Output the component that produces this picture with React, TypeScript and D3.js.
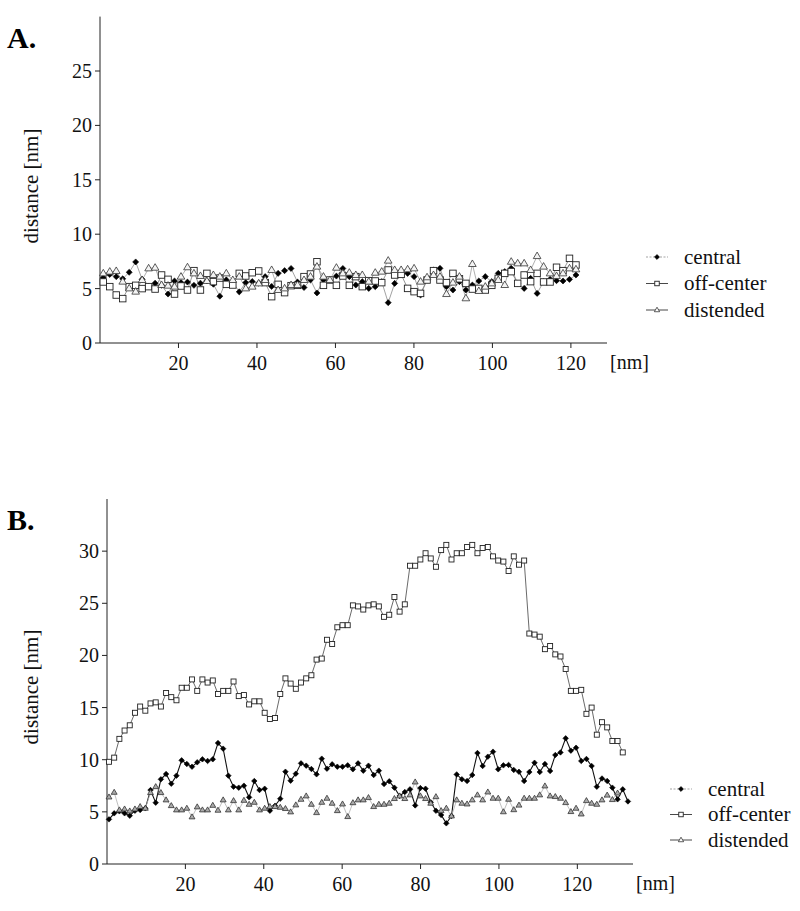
import React from 'react';
import * as d3 from 'd3';

const FONT = "'Liberation Serif', 'DejaVu Serif', 'Noto Serif', Tinos, Times, 'Times New Roman', serif";

const seriesNames = ['central', 'off-center', 'distended'];

// sampling grid (nm) of each panel
const aXStart = 0.84;
const aXStep = 1.65;
const bXStart = 0.51;
const bXStep = 1.324;

// ---------- Panel A ----------
const aCentral = [
  6.0, 6.3, 6.1, 5.9, 6.5, 7.45, 5.85, 5.2, 5.5, 5.3,
  4.5, 5.7, 5.55, 5.6, 5.3, 5.5, 5.7, 5.4, 4.3, 5.8,
  5.6, 4.7, 5.55, 5.65, 5.5, 6.1, 5.2, 6.4, 6.65, 6.85,
  5.6, 5.1, 5.8, 4.6, 5.8, 5.8, 6.15, 6.85, 6.1, 5.33,
  5.64, 5.02, 5.18, 5.64, 3.71, 5.48, 6.4, 6.4, 6.1, 4.41,
  5.79, 6.71, 6.86, 5.18, 4.87, 5.64, 4.87, 5.33, 5.7, 6.1,
  5.64, 6.4, 6.56, 6.86, 5.48, 5.02, 5.94, 4.56, 5.64, 5.85,
  5.73, 5.7, 5.85, 6.25,
];
const aOffCenter = [
  5.61, 5.18, 4.41, 4.08, 5.18, 5.3, 5.0, 5.18, 4.96, 6.25,
  5.85, 4.5, 5.24, 4.87, 6.65, 4.87, 6.4, 5.64, 5.97, 5.39,
  5.33, 6.4, 6.16, 6.46, 6.62, 5.55, 4.26, 5.39, 4.63, 5.27,
  5.3, 6.1, 6.34, 7.47, 5.3, 5.79, 5.3, 6.16, 5.3, 6.1,
  5.18, 5.73, 5.7, 5.55, 6.71, 6.25, 6.31, 5.02, 4.72, 4.56,
  5.79, 6.65, 5.79, 5.55, 6.4, 5.9, 5.48, 4.96, 5.02, 4.87,
  5.3, 5.94, 6.4, 6.56, 5.48, 6.25, 5.64, 6.4, 5.61, 5.61,
  6.96, 6.65, 7.78, 7.17,
];
const aDistended = [
  6.4, 6.56, 6.62, 5.64, 5.02, 4.72, 5.79, 6.86, 6.92, 5.33,
  5.27, 5.18, 6.1, 6.96, 6.4, 6.16, 5.7, 6.25, 6.1, 6.4,
  5.79, 6.1, 5.02, 5.18, 5.48, 5.79, 6.71, 4.87, 5.02, 5.33,
  5.33, 5.79, 6.1, 7.02, 6.1, 5.79, 6.92, 6.4, 6.46, 6.25,
  6.25, 5.64, 6.46, 6.56, 7.57, 6.71, 6.71, 6.77, 6.86, 5.64,
  6.04, 6.25, 6.1, 4.5, 5.55, 6.1, 4.11, 7.26, 4.78, 5.18,
  5.48, 5.79, 5.33, 7.47, 7.32, 7.32, 6.71, 7.99, 7.02, 6.4,
  6.16, 6.4, 6.86, 6.77,
];

// ---------- Panel B ----------
const bCentral = [
  4.28, 4.86, 5.05, 4.86, 4.63, 5.11, 5.18, 5.34, 7.09, 5.88,
  8.12, 8.63, 7.7, 8.47, 9.94, 9.59, 9.33, 9.75, 10.04, 9.88,
  10.04, 11.6, 11.06, 8.47, 7.41, 7.32, 7.51, 6.39, 7.96, 7.09,
  7.22, 5.11, 5.59, 6.26, 8.85, 7.99, 8.66, 9.65, 9.43, 9.11,
  8.6, 10.1, 9.14, 9.56, 9.33, 9.33, 9.46, 9.08, 9.65, 8.95,
  9.43, 8.53, 8.95, 7.67, 7.93, 7.32, 6.52, 6.9, 7.16, 5.62,
  7.28, 7.22, 5.91, 5.11, 4.7, 3.9, 4.6, 8.59, 8.12, 7.96,
  8.53, 10.64, 9.4, 10.29, 10.77, 9.08, 9.46, 9.5, 9.02, 8.84,
  7.96, 8.82, 9.71, 8.82, 9.59, 8.92, 10.45, 10.7, 12.05, 10.87,
  11.15, 9.88, 10.07, 9.4, 7.41, 8.2, 7.96, 7.32, 6.2, 7.16,
  6.0,
];
const bOffCenter = [
  9.8, 10.2, 12.0, 12.8, 13.3, 14.5, 15.1, 14.7, 15.4, 15.5,
  15.1, 16.4, 16.0, 15.7, 16.9, 16.9, 17.7, 16.6, 17.7, 17.4,
  17.6, 16.3, 16.6, 16.6, 17.5, 16.1, 16.2, 15.3, 15.6, 15.6,
  14.5, 13.9, 14.0, 16.3, 17.8, 17.3, 16.8, 17.4, 17.8, 18.1,
  19.6, 19.7, 21.5, 21.1, 22.7, 22.9, 22.9, 24.8, 24.7, 24.4,
  24.8, 24.9, 24.7, 23.7, 23.9, 25.6, 24.2, 24.9, 28.6, 28.6,
  29.2, 29.8, 29.3, 28.5, 30.1, 30.6, 29.2, 29.8, 29.8, 30.4,
  30.6, 29.8, 30.3, 30.4, 29.5, 29.1, 29.0, 28.1, 29.5, 28.7,
  29.1, 22.1, 22.0, 21.8, 20.6, 20.9, 20.1, 19.9, 18.7, 16.6,
  16.6, 16.7, 14.4, 15.0, 12.4, 13.6, 13.1, 11.8, 11.8, 10.7,
];
const bDistended = [
  6.42, 6.87, 5.18, 5.27, 5.08, 5.27, 5.5, 5.34, 6.84, 7.41,
  6.84, 6.14, 5.59, 5.18, 5.18, 5.34, 4.51, 5.47, 5.18, 5.18,
  5.62, 5.15, 6.14, 5.18, 6.07, 5.18, 6.1, 5.72, 5.91, 5.18,
  5.34, 5.5, 5.5, 5.43, 5.31, 4.99, 5.66, 6.2, 6.52, 5.72,
  4.92, 5.91, 6.3, 5.82, 5.11, 5.75, 4.54, 5.87, 6.14, 6.14,
  6.36, 5.5, 5.72, 5.72, 5.82, 6.27, 6.52, 6.27, 6.62, 7.86,
  6.52, 6.27, 5.82, 6.45, 5.11, 5.34, 4.6, 6.14, 5.82, 5.75,
  6.14, 6.62, 6.14, 6.9, 6.3, 6.3, 5.0, 6.2, 5.2, 5.64,
  6.3, 6.3, 6.3, 6.62, 7.48, 6.52, 6.46, 6.3, 5.88, 5.02,
  5.34, 4.79, 6.07, 5.82, 5.72, 6.14, 6.6, 6.17, 6.8,
];

const aYTicks = [0, 5, 10, 15, 20, 25];
const bYTicks = [0, 5, 10, 15, 20, 25, 30];
const xTicks = [20, 40, 60, 80, 100, 120];

type Style = {
  line: string;
  lineW: number;
  mSize: number;
  triFill: string;
};

type PanelProps = {
  label: string;
  left: number;
  right: number;
  top: number;
  bottom: number;
  xMax: number;
  yMax: number;
  yTicks: number[];
  series: number[][];
  xStart: number;
  xStep: number;
  styles: Style[];
  legendX: number;
  legendY: number;
  legendGap: number;
  yLabelY: number;
};

function Marker({ kind, x, y, s, triFill }: { kind: number; x: number; y: number; s: number; triFill: string }) {
  if (kind === 0) {
    const r = s * 0.55;
    return <path d={`M${x},${y - r}L${x + r},${y}L${x},${y + r}L${x - r},${y}Z`} fill="#000" stroke="#000" strokeWidth={0.6} />;
  }
  if (kind === 1) {
    return <rect x={x - s / 2} y={y - s / 2} width={s} height={s} fill="#fff" stroke="#222" strokeWidth={0.9} />;
  }
  const r = s * 0.62;
  return (
    <path
      d={`M${x},${y - r}L${x + r * 0.95},${y + r * 0.62}L${x - r * 0.95},${y + r * 0.62}Z`}
      fill={triFill}
      stroke="#333"
      strokeWidth={0.8}
    />
  );
}

function Panel(p: PanelProps) {
  const x = d3.scaleLinear().domain([0, p.xMax]).range([p.left, p.right]);
  const y = d3.scaleLinear().domain([0, p.yMax]).range([p.bottom, p.top]);
  const xs = (i: number) => x(p.xStart + p.xStep * i);
  const line = d3
    .line<number>()
    .x((_, i) => xs(i))
    .y((d) => y(d));

  return (
    <g fontFamily={FONT} style={{ fontFamily: FONT }}>
      <text x={7} y={p.top + 31} fontWeight="bold" fontSize={30}>
        {p.label}
      </text>
      {/* axes */}
      <line x1={p.left} x2={p.left} y1={p.top} y2={p.bottom} stroke="#222" strokeWidth={1} />
      <line x1={p.left} x2={p.right} y1={p.bottom} y2={p.bottom} stroke="#222" strokeWidth={1} />
      {p.yTicks.map((t) => (
        <g key={'y' + t}>
          <line x1={p.left - 5} x2={p.left} y1={y(t)} y2={y(t)} stroke="#222" strokeWidth={1} />
          <text x={p.left - 8} y={y(t)} dy="0.35em" textAnchor="end" fontSize={20} fill="#111">
            {t}
          </text>
        </g>
      ))}
      {xTicks.map((t) => (
        <g key={'x' + t}>
          <line x1={x(t)} x2={x(t)} y1={p.bottom} y2={p.bottom + 5} stroke="#222" strokeWidth={1} />
          <text x={x(t)} y={p.bottom + 27} textAnchor="middle" fontSize={20} fill="#111">
            {t}
          </text>
        </g>
      ))}
      <text x={p.right + 3} y={p.bottom + 26} fontSize={20} fill="#111">
        [nm]
      </text>
      <text transform={`translate(38,${p.yLabelY}) rotate(-90)`} textAnchor="middle" fontSize={21} fill="#111">
        distance [nm]
      </text>
      {/* lines */}
      {p.series.map((s, k) => (
        <path key={'l' + k} d={line(s) || ''} fill="none" stroke={p.styles[k].line} strokeWidth={p.styles[k].lineW} />
      ))}
      {/* markers */}
      {p.series.map((s, k) => (
        <g key={'m' + k}>
          {s.map((v, i) => (
            <Marker key={i} kind={k} x={xs(i)} y={y(v)} s={p.styles[k].mSize} triFill={p.styles[k].triFill} />
          ))}
        </g>
      ))}
      {/* legend */}
      {seriesNames.map((n, k) => {
        const ly = p.legendY + k * p.legendGap;
        return (
          <g key={'lg' + k}>
            <line
              x1={p.legendX}
              x2={p.legendX + 22}
              y1={ly}
              y2={ly}
              stroke={k === 0 ? '#999' : '#333'}
              strokeWidth={0.9}
              strokeDasharray={k === 0 ? '2,1.5' : undefined}
            />
            <Marker kind={k} x={p.legendX + 11} y={ly} s={4.5} triFill="#fff" />
            <text x={p.legendX + 38} y={ly + 6.5} fontSize={21} fill="#111">
              {n}
            </text>
          </g>
        );
      })}
    </g>
  );
}

export default function App() {
  const aStyles: Style[] = [
    { line: '#8a8a8a', lineW: 0.8, mSize: 5.5, triFill: '#fff' },
    { line: '#7a7a7a', lineW: 0.8, mSize: 6.5, triFill: '#fff' },
    { line: '#9a9a9a', lineW: 0.8, mSize: 6.5, triFill: '#f4f4f4' },
  ];
  const bStyles: Style[] = [
    { line: '#111', lineW: 1.1, mSize: 5, triFill: '#fff' },
    { line: '#444', lineW: 0.8, mSize: 5, triFill: '#fff' },
    { line: '#b0b0b0', lineW: 0.8, mSize: 5, triFill: '#aaa' },
  ];
  return (
    <svg width={800} height={911} style={{ position: 'absolute', left: 0, top: 0, background: '#fff' }}>
      <rect x={0} y={0} width={800} height={911} fill="#fff" />
      <Panel
        label="A."
        left={100}
        right={607}
        top={16.6}
        bottom={343}
        xMax={129.2}
        yMax={30}
        yTicks={aYTicks}
        series={[aCentral, aOffCenter, aDistended]}
        xStart={aXStart}
        xStep={aXStep}
        styles={aStyles}
        legendX={646}
        legendY={257}
        legendGap={26.5}
        yLabelY={186}
      />
      <Panel
        label="B."
        left={107}
        right={633}
        top={499}
        bottom={864}
        xMax={134.2}
        yMax={35}
        yTicks={bYTicks}
        series={[bCentral, bOffCenter, bDistended]}
        xStart={bXStart}
        xStep={bXStep}
        styles={bStyles}
        legendX={670}
        legendY={789}
        legendGap={25.5}
        yLabelY={687}
      />
    </svg>
  );
}
